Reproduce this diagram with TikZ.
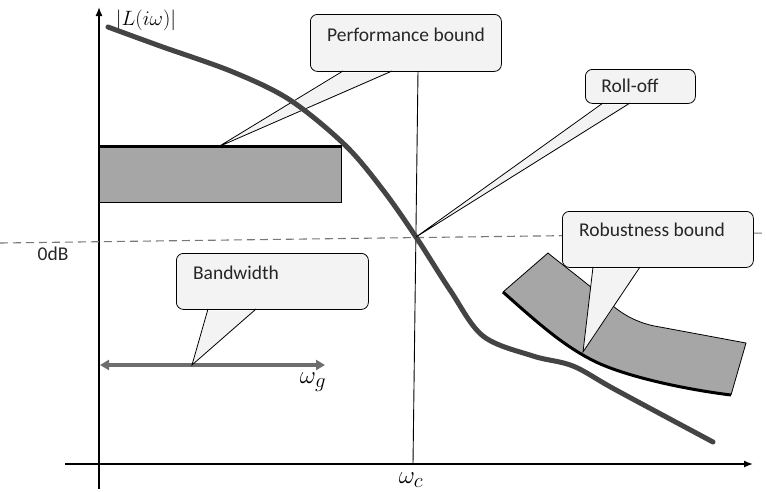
\documentclass[tikz,border=0pt]{standalone}
\usepackage{fontspec}
\newfontfamily\calib{Carlito}
\usetikzlibrary{arrows.meta}
\definecolor{boxgray}{HTML}{A6A6A6}
\definecolor{curvegray}{HTML}{444444}
\definecolor{callfill}{HTML}{F3F3F3}
\definecolor{arrowgray}{HTML}{6E6E6E}
\definecolor{dashgray}{HTML}{777777}
\tikzset{
  callbox/.style={draw=black, fill=callfill, rounded corners=7pt, line width=0.8pt, inner sep=0pt},
  calltext/.style={font=\calib\fontsize{19.5}{21}\selectfont, text=black!85, inner sep=0pt},
  pointerfill/.style={fill=callfill, draw=none},
  pointerline/.style={draw=black, line width=0.8pt},
  axisline/.style={line width=1.4pt, -{Latex[length=9pt,width=7pt]}},
}
\begin{document}
\begin{tikzpicture}[x=1pt,y=-1pt]
\useasboundingbox (0,0) rectangle (766,491);
% axes
\coordinate (yb) at (99,489);
\coordinate (yt) at (99,7);
\coordinate (xl) at (65,464);
\coordinate (xr) at (753,464);
\draw[axisline] (yb) -- (yt);
\draw[axisline] (xl) -- (xr);
\node[font=\fontsize{20}{22}\selectfont, inner sep=0pt] (lab) at (146,20) {$|L(i\omega)|$};
% 0 dB line
\coordinate (dl) at (0,243);
\coordinate (dr) at (766,233);
\draw[dashgray, line width=1.1pt, dash pattern=on 8pt off 5pt] (dl) -- (dr);
\node[font=\calib\fontsize{19.5}{21}\selectfont, text=black!85, inner sep=0pt] (odb) at (53,254) {0dB};
% performance box
\node[fill=boxgray, draw=black, line width=0.9pt, minimum width=242pt, minimum height=56pt, anchor=north west, inner sep=0pt] (pbox) at (99,146) {};
\draw[line width=3pt] (pbox.north west) -- (pbox.north east);
% performance callout
\node[callbox, minimum width=191pt, minimum height=57pt, anchor=north west] (perf) at (310,14) {};
\node[calltext] (perft) at (406,35) {Performance bound};
\coordinate (pa) at (343,71);
\coordinate (pb) at (392,71);
\coordinate (ptip) at (218,147);
\fill[pointerfill] ([yshift=-1.5pt]pa) -- (ptip) -- ([yshift=-1.5pt]pb) -- cycle;
\draw[pointerline] (pa) -- (ptip) -- (pb);
% omega_c line
\coordinate (wct) at (418,71);
\coordinate (wcb) at (413,464);
\draw[line width=0.9pt] (wct) -- (wcb);
\node[font=\fontsize{28}{30}\selectfont, inner sep=0pt] (wc) at (411,480) {$\omega_c$};
% loop curve
\draw[curvegray, line width=5pt, line cap=round] plot[smooth, tension=0.55] coordinates {(108,27) (160,46) (233,72) (290,100) (345,145) (383,190) (416,237) (450,290) (483,336) (533,356) (573,366) (616,390) (713,442)};
% robustness region
\coordinate (r1) at (503,292);
\coordinate (r2) at (548,253);
\coordinate (r3) at (746,343);
\coordinate (r4) at (731,395);
\fill[boxgray] (r1) -- (r2) .. controls (556,260) and (590,285) .. (613,306) .. controls (625,316) and (640,324) .. (660,327) -- (r3) -- (r4) .. controls (690,390) and (630,378) .. (596,362) .. controls (565,347) and (540,325) .. cycle;
\draw[line width=0.8pt] (r1) -- (r2) .. controls (556,260) and (590,285) .. (613,306) .. controls (625,316) and (640,324) .. (660,327) -- (r3) -- (r4);
\draw[line width=3pt] (r4) .. controls (690,390) and (630,378) .. (596,362) .. controls (565,347) and (540,325) .. (r1);
% robustness callout
\node[callbox, minimum width=191pt, minimum height=56pt, anchor=north west] (rob) at (562,211) {};
\node[calltext] (robt) at (652,230) {Robustness bound};
\coordinate (ra) at (593,267);
\coordinate (rb) at (640,267);
\coordinate (rtip) at (583,352);
\fill[pointerfill] ([yshift=-1.5pt]ra) -- (rtip) -- ([yshift=-1.5pt]rb) -- cycle;
\draw[pointerline] (ra) -- (rtip) -- (rb);
% roll-off callout
\node[callbox, minimum width=110pt, minimum height=34pt, anchor=north west] (roll) at (585,69) {};
\node[calltext] (rollt) at (630,86) {Roll-off};
\coordinate (la) at (603,103);
\coordinate (lb) at (630,103);
\coordinate (ltip) at (416,237);
\fill[pointerfill] ([yshift=-1.5pt]la) -- (ltip) -- ([yshift=-1.5pt]lb) -- cycle;
\draw[pointerline] (la) -- (ltip) -- (lb);
% bandwidth arrow
\coordinate (bl) at (100,365);
\coordinate (br) at (325,365);
\draw[arrowgray, line width=3.5pt, {Triangle[length=9pt,width=10pt]}-{Triangle[length=9pt,width=10pt]}] (bl) -- (br);
\node[font=\fontsize{30}{32}\selectfont, inner sep=0pt] (wg) at (313,382) {$\omega_g$};
% bandwidth callout
\node[callbox, minimum width=192pt, minimum height=56pt, anchor=north west] (band) at (176,253) {};
\node[calltext] (bandt) at (236,273) {Bandwidth};
\coordinate (ba) at (208,309);
\coordinate (bb) at (256,309);
\coordinate (btip) at (192,365);
\fill[pointerfill] ([yshift=-1.5pt]ba) -- (btip) -- ([yshift=-1.5pt]bb) -- cycle;
\draw[pointerline] (ba) -- (btip) -- (bb);
\end{tikzpicture}
\end{document}
